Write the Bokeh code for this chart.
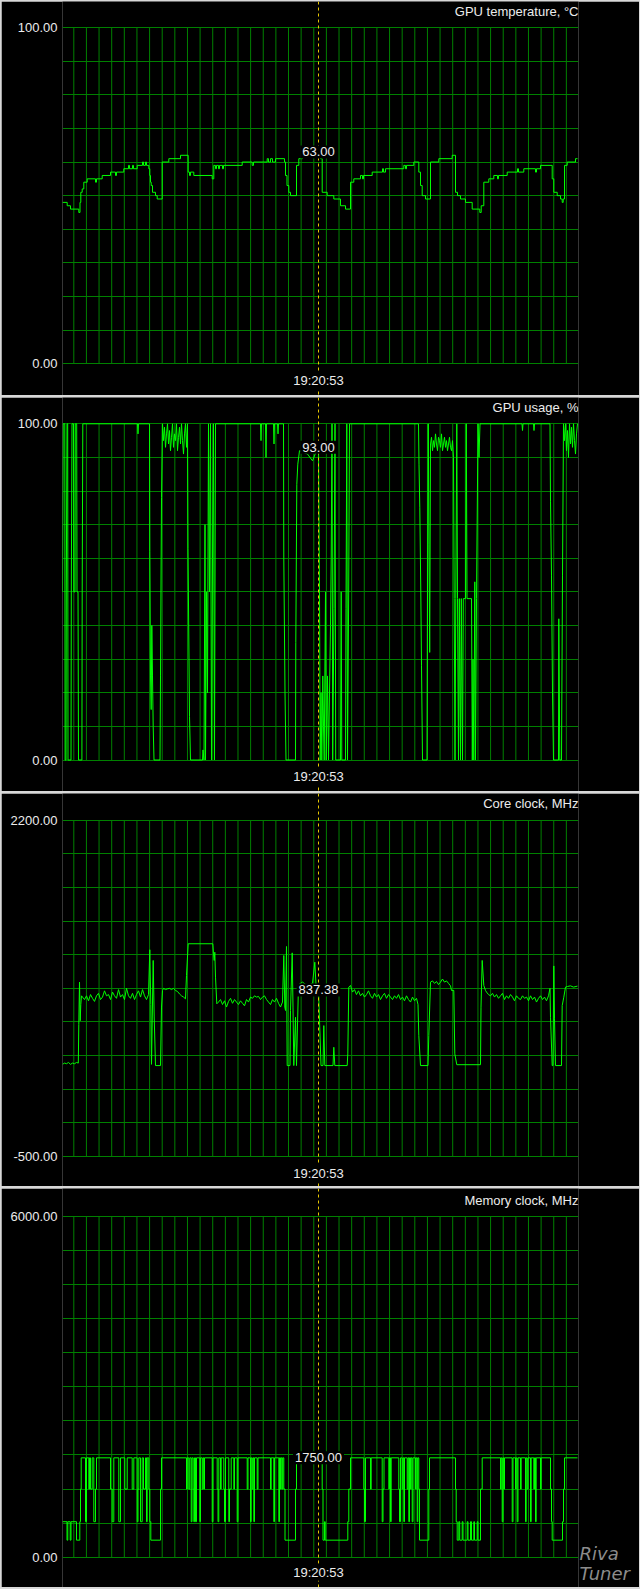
import numpy as np
from bokeh.plotting import figure
from bokeh.layouts import column
from bokeh.models import Range1d, FixedTicker, PrintfTickFormatter, Span, Label, LinearAxis
from bokeh.embed import file_html
from bokeh.resources import INLINE

# ---------------- data ----------------
titles = ["GPU temperature, °C", "GPU usage, %", "Core clock, MHz", "Memory clock, MHz"]
y_limits = [(0, 100), (0, 100), (-500, 2200), (0, 6000)]
cursor_sample = 256
cursor_time_label = "19:20:53"
cursor_values = [63.00, 93.00, 837.38, 1750.00]
watermark_words = ["Riva", "Tuner"]

temp_t = [0, 4.7, 8, 16.3, 17.5, 18.3, 19.7, 21.3, 24.7, 33, 34, 39.7, 48, 53, 54, 61.3, 66, 67, 70, 71,
          74.7, 80, 81, 83, 84, 86.3, 87.3, 88, 88.7, 90, 93, 94.7, 99.7, 106.3, 118, 125.7, 127, 128,
          131.3, 149.7, 151.3, 153, 154, 156, 157, 160, 161, 179.7, 189.7, 191, 204.7, 206, 208, 210,
          213, 222, 223, 224.5, 226.3, 228, 234, 236.3, 240, 246, 258, 259.7, 264.7, 271.3, 278, 283,
          288, 291.3, 298, 300, 301, 309.7, 320, 321, 323, 341.3, 343, 344, 351.3, 356.3, 358, 359.7,
          363, 368, 376.3, 389.7, 393, 395, 398, 403, 409.7, 417.3, 418.7, 421.3, 426.3, 431.3, 435,
          436, 444.7, 455, 456, 461.3, 473, 474, 478, 489.7, 491.3, 494.7, 498, 499.7, 500.7, 502,
          504.7, 513, 515]
temp_v = [48, 47, 46, 45, 48, 51, 52, 54, 55, 54, 55, 56, 57, 56, 57, 58, 59, 58, 59, 58,
          59, 60, 59, 60, 59, 58, 56, 54, 53, 51, 50, 49, 60, 61, 62, 57, 56, 57,
          56, 55, 59, 58, 59, 58, 59, 58, 59, 60, 59, 60, 61, 60, 61, 60,
          61, 60, 56, 53, 51, 50, 59, 61, 62, 63, 61, 51, 50, 49, 47, 46,
          54, 55, 56, 55, 56, 57, 58, 57, 58, 59, 58, 59, 60, 57, 53, 50,
          49, 60, 61, 62, 51, 50, 49, 48, 46, 45, 47, 54, 55, 56, 55,
          56, 57, 58, 57, 58, 57, 58, 59, 55, 51, 50, 49, 48, 49, 59,
          60, 61, 61]

usage_t = [0, 0.7, 2.3, 2.6, 3.5, 3.8, 4.5, 5.2, 5.5, 8.5, 8.8, 9.5, 11, 11.3, 12.5, 12.8, 14.2, 14.5,
           15.5, 16, 19.4, 19.7, 20.3, 75, 75.5, 76, 87, 87.3, 88, 88.7, 89.3, 90, 90.7, 91.5, 97.5,
           98, 99, 100, 101, 102, 103, 104, 105, 106, 107, 108, 109, 110, 111, 112, 113, 114, 115,
           116, 117, 118, 119, 120, 121, 122, 123, 124, 125, 125.5, 127, 128, 140, 140.5, 141.5,
           142.5, 143, 144, 145, 146, 147, 148, 149, 150, 151, 152, 153, 198, 198.5, 199, 203,
           203.5, 204, 211, 211.5, 212, 215, 215.5, 216, 221, 221.3, 222.5, 223.5, 233, 233.3,
           234.3, 235.3, 237, 245, 250, 254, 256, 257, 257.7, 258.5, 259.3, 260.3, 261, 261.7,
           263, 263.7, 265, 266, 268, 268.7, 269.5, 270.2, 271.5, 272.5, 273.2, 278, 278.7, 279.3,
           283, 283.5, 284.3, 285, 286.2, 287, 356, 356.5, 357.3, 358.3, 359, 360, 364.5, 365,
           365.8, 366.5, 367.2, 368, 369, 370, 371, 372, 373, 374, 375, 376, 377, 378, 379, 380,
           381, 382, 383, 384, 385, 386, 387, 388, 389, 390, 391, 391.7, 392.5, 393.3, 394.3, 395,
           396, 396.8, 398, 398.8, 400, 400.8, 403, 403.8, 404.5, 409, 409.8, 410.5, 411.3, 412.3,
           413, 414, 415.5, 416.5, 417.5, 459.5, 460, 460.5, 471, 471.5, 472, 487.5, 488, 489, 490,
           491, 496, 496.3, 497.3, 499, 500, 501, 502, 503, 504, 505, 506, 507, 508, 509, 510, 511,
           512, 513, 514, 515]
usage_v = [50, 100, 100, 0, 0, 50, 100, 100, 0, 0, 50, 100, 100, 50, 50, 100, 100, 50,
           50, 0, 0, 50, 100, 100, 97, 100, 100, 62, 25, 15, 40, 25, 10, 0, 0,
           25, 78, 100, 95, 99, 93, 97, 100, 94, 98, 92, 96, 100, 93, 97, 95, 100, 92,
           96, 99, 94, 100, 95, 91, 97, 100, 93, 100, 63, 13, 0, 0, 3, 0,
           70, 0, 50, 20, 100, 50, 100, 0, 60, 100, 0, 100, 100, 95, 100, 100,
           90, 100, 100, 94, 100, 100, 97, 100, 100, 60, 20, 0, 0, 35,
           82, 88, 92, 91, 89, 92, 93, 50, 0, 20, 0, 25, 10, 0,
           50, 0, 25, 0, 40, 60, 100, 0, 45, 100, 0, 0, 50, 0,
           0, 45, 100, 0, 50, 100, 100, 88, 75, 50, 28, 0, 0, 50,
           100, 64, 32, 94, 96, 92, 95, 93, 97, 94, 92, 96, 95, 93, 97, 92,
           94, 96, 93, 95, 92, 94, 96, 93, 92, 95, 90, 48, 0, 48, 100, 48,
           0, 48, 0, 48, 0, 48, 48, 100, 48, 48, 0, 30, 0, 53,
           0, 48, 100, 90, 100, 100, 98, 100, 100, 98, 100, 100, 77, 55, 20,
           0, 0, 42, 0, 0, 55, 100, 95, 100, 92, 98, 90, 100, 94, 99, 93, 100,
           95, 91, 97, 100]

core_t = [0, 2, 4, 6, 8, 10, 12, 14, 15.8, 16.3, 17, 17.7, 18.3, 19, 20, 22, 24, 26, 28, 30, 32, 34,
          36, 38, 40, 42, 44, 46, 48, 50, 52, 54, 56, 58, 60, 62, 64, 66, 68, 70, 72, 74, 76, 78, 80,
          82, 84, 86, 87.3, 88.3, 89, 90.7, 91.7, 93, 98, 99, 100, 101, 103, 105, 107, 109, 111, 113,
          115, 117, 119, 121, 123, 124, 125.7, 150.3, 151, 151.7, 152.3, 153, 154.3, 156, 158, 160,
          162, 164, 166, 168, 170, 172, 174, 176, 178, 180, 182, 184, 186, 188, 190, 192, 194, 196,
          198, 200, 202, 204, 206, 208, 210, 212, 214, 216, 218, 220, 221.3, 222.3, 223, 224, 224.7,
          227.5, 228, 229.7, 230.5, 231.3, 233, 234, 236, 240, 245, 250, 252.3, 253.5, 256, 258.5,
          260.5, 261.3, 262.3, 270.5, 271.3, 272.3, 284.7, 285.3, 286.3, 288, 290, 292, 294, 296,
          298, 300, 302, 304, 306, 308, 310, 312, 314, 316, 318, 320, 322, 324, 326, 328, 330, 332,
          334, 336, 338, 340, 342, 344, 346, 348, 350, 352, 354, 355.5, 356.3, 358, 365.5, 366.3,
          368, 370, 372, 374, 376, 378, 380, 382, 384, 386, 388, 389, 391.3, 392.3, 394.3, 418,
          418.5, 419.7, 421.3, 423, 424, 426, 428, 430, 432, 434, 436, 438, 440, 442, 444, 446, 448,
          450, 452, 454, 456, 458, 460, 462, 464, 466, 468, 470, 472, 474, 476, 478, 480, 482, 484,
          486, 487.5, 488, 489.7, 490.5, 491.3, 492, 493, 499, 499.7, 501.3, 503, 505, 508, 511, 515]
core_v = [240, 250, 245, 255, 240, 250, 245, 255, 250, 560, 900, 590, 720, 790, 780, 760, 790, 750, 800,
          770, 745, 790, 810, 760, 780, 830, 790, 800, 760, 820, 790, 770, 840, 780, 800, 760, 850,
          790, 770, 810, 760, 800, 830, 780, 840, 790, 760, 800, 1160, 720, 240, 1074, 620, 230, 230,
          700, 833, 850, 840, 846, 850, 840, 850, 833, 825, 805, 790, 780, 766, 953, 1208, 1208, 1127,
          1074, 1140, 940, 726, 740, 760, 720, 750, 700, 745, 770, 730, 760, 740, 720, 750, 730, 710,
          760, 740, 780, 770, 790, 780, 785, 760, 780, 790, 760, 740, 720, 760, 740, 770, 730, 700,
          740, 1114, 700, 672, 1186, 230, 230, 672, 1135, 700, 230, 618, 230, 880, 900, 870, 890,
          1060, 880, 837.38, 230, 230, 551, 230, 230, 377, 230, 230, 324, 860, 873, 820, 840, 800,
          830, 790, 810, 780, 800, 830, 790, 770, 810, 780, 800, 760, 790, 810, 770, 800, 780, 760,
          790, 770, 800, 760, 780, 750, 790, 760, 740, 780, 750, 770, 720, 471, 230, 230, 471, 900,
          910, 890, 905, 880, 900, 925, 900, 910, 890, 870, 833, 833, 324, 237, 237, 699, 1074, 873,
          833, 820, 800, 790, 810, 780, 800, 770, 790, 810, 760, 790, 770, 800, 780, 750, 790, 770,
          760, 790, 770, 780, 750, 790, 760, 780, 740, 770, 790, 760, 780, 750, 790, 850, 618, 230,
          230, 1030, 605, 230, 230, 712, 779, 860, 865, 870, 860, 868]

mem_t = [0, 4.5, 5.3, 7.7, 8.5, 14, 17.3, 18, 18.7, 23, 24, 26.3, 27, 28, 29.7, 31.3, 33, 34, 48, 49.7,
         51.3, 56.3, 58, 62.3, 64.7, 69.7, 71.3, 74.7, 75.5, 76.3, 78, 79.7, 81, 83, 84, 84.7, 86.3,
         87.3, 88.3, 98, 99, 124, 124.7, 126.3, 127.3, 128.7, 129.5, 130.7, 131.3, 132, 133, 134,
         137.3, 138, 139.7, 140.5, 141.3, 142, 149.7, 150.5, 154.7, 155.5, 156.3, 158, 158.7, 161.3,
         162, 163, 166.3, 167, 168.7, 171.3, 172, 174.7, 175.5, 184.7, 185.5, 188, 188.7, 189.7,
         190.5, 191.3, 192, 194.7, 195.5, 208, 208.7, 211.3, 212, 216.3, 217, 218, 218.7, 219.7,
         220.3, 221.3, 222.5, 233, 234, 259.7, 260.5, 262, 262.7, 285.3, 286.3, 288, 301.3, 302,
         303, 308, 308.7, 319.7, 320.5, 321.5, 326.3, 327, 328, 328.7, 336.3, 337, 338, 339.7,
         340.5, 341.3, 342, 344.7, 345.5, 346.3, 347, 348, 348.7, 349.7, 350.5, 353, 353.7, 354.7,
         355.3, 356.3, 357, 366.3, 367, 393, 393.7, 394.7, 396.3, 397.2, 399.7, 400.5, 404.7, 405.5,
         408, 409, 411.3, 412, 414.7, 415.5, 418, 419.7, 438, 438.7, 439.7, 440.5, 441.3, 442, 449.7,
         450.5, 453, 453.7, 454.7, 455.5, 458, 458.7, 463, 463.7, 464.7, 465.5, 468, 468.7, 471.3,
         472, 473, 473.7, 478, 478.7, 488, 489, 489.7, 500, 501, 502, 515]
mem_v = [625, 300, 625, 300, 625, 300, 625, 1200, 1750, 625, 1750, 1200, 1750, 1200, 1750, 625, 1200, 1750, 1200, 625,
         1750, 625, 1750, 1200, 1750, 1200, 1750, 625, 1200, 1750, 625, 1750, 1200, 1750, 625, 1750, 1200,
         625, 300, 1200, 1750, 1200, 1750, 1200, 1750, 625, 1750, 1200, 625, 1750, 625, 1750,
         625, 1750, 1200, 1750, 1200, 1750, 625, 1750, 1200, 625, 1750, 1200, 1750, 1200,
         625, 1750, 625, 1200, 1750, 1200, 1750, 625, 1750, 1200, 1750, 625, 1750, 1200,
         1750, 625, 1750, 1200, 1750, 1200, 1750, 625, 1750, 625, 1750, 1200, 1750, 1200,
         1750, 1200, 300, 1200, 1750, 1200, 300, 625, 300, 625, 1200, 1750, 1200, 625,
         1750, 1200, 1750, 625, 1200, 1750, 1200, 1750, 625, 1750, 1200, 625, 1750, 1200,
         1750, 625, 1750, 1200, 1750, 625, 1750, 1200, 1750, 625, 1750, 1200, 1750, 625,
         1750, 1200, 300, 1200, 1750, 1200, 625, 300, 625, 300, 625, 300, 625, 300,
         625, 300, 625, 300, 625, 300, 1200, 1750, 1200, 1750, 625, 1750, 1200, 1750, 625,
         1750, 1200, 1750, 625, 1750, 1200, 1750, 625, 1750, 1200, 1750, 625, 1750, 1200,
         1750, 625, 1750, 1200, 1750, 1200, 625, 300, 625, 1200, 1750, 1750]

series = [(temp_t, temp_v, "step"), (usage_t, usage_v, "line"),
          (core_t, core_v, "line"), (mem_t, mem_v, "step")]

# ---------------- layout / style ----------------
FIG_W = 638                      # + 1px frame border on each side
panel_h = [394, 394, 393, 399]
plot_top = [26, 26.3, 26.7, 28]
plot_bot = [362.3, 362.5, 363, 368.7]
time_gap = [16.7, 16.5, 16.5, 15]
FRAME_L, FRAME_R = 61, 61
N_SAMPLES = 516
GRID_X0, GRID_DX = 11.3, 12.63
GRID_COLOR = "#008000"
LINE_COLOR = "#00ff00"
TEXT_COLOR = "#ececec"
FONT = "Liberation Sans"
FSIZE = "13px"
CURSOR_COLOR = "#e6c800"
BORDER_COLOR = "#d8d8d8"

panels = []
for i in range(4):
    vmin, vmax = y_limits[i]
    H, top, bot = panel_h[i], plot_top[i], plot_bot[i]
    upp = (vmax - vmin) / (bot - top)
    p = figure(width=FIG_W, height=H, x_range=Range1d(0, N_SAMPLES),
               y_range=Range1d(vmin - (H - bot) * upp, vmax + top * upp),
               output_backend="svg", toolbar_location=None, title=None,
               x_axis_location=None, y_axis_location="left",
               min_border_left=FRAME_L, min_border_right=FRAME_R,
               min_border_top=0, min_border_bottom=0,
               background_fill_color="black", border_fill_color="black",
               outline_line_color=None)
    p.xgrid.grid_line_color = None
    p.ygrid.ticker = FixedTicker(ticks=list(np.linspace(vmin, vmax, 11)))
    p.ygrid.grid_line_color = GRID_COLOR
    p.ygrid.grid_line_width = 1

    ax = p.yaxis[0]
    ax.ticker = FixedTicker(ticks=[vmin, vmax])
    ax.formatter = PrintfTickFormatter(format="%.2f")
    ax.axis_line_color = None
    ax.major_tick_line_color = None
    ax.minor_tick_line_color = None
    ax.major_tick_in = 0
    ax.major_tick_out = 0
    ax.major_label_standoff = 5
    ax.major_label_text_font = FONT
    ax.major_label_text_font_size = FSIZE
    ax.major_label_text_color = TEXT_COLOR

    gx = np.arange(GRID_X0, N_SAMPLES, GRID_DX)
    p.segment(x0=gx, y0=vmin, x1=gx, y1=vmax, line_color=GRID_COLOR, line_width=1)

    t, v, kind = series[i]
    if kind == "step":
        p.step(t, v, mode="after", line_color=LINE_COLOR, line_width=1)
    else:
        p.line(t, v, line_color=LINE_COLOR, line_width=1)

    p.add_layout(Span(location=cursor_sample, dimension="height", line_color=CURSOR_COLOR,
                      line_width=1, line_dash="3 3"))

    p.add_layout(Label(x=N_SAMPLES, y=vmax + 16.3 * upp, text=titles[i],
                       text_align="right", text_baseline="middle", text_font=FONT,
                       text_font_size=FSIZE, text_color=TEXT_COLOR))
    p.add_layout(Label(x=cursor_sample, y=vmin - time_gap[i] * upp, text=cursor_time_label,
                       text_align="center", text_baseline="middle", text_font=FONT,
                       text_font_size=FSIZE, text_color=TEXT_COLOR,
                       background_fill_color="black", padding=1))
    p.add_layout(Label(x=cursor_sample, y=cursor_values[i], text="%.2f" % cursor_values[i],
                       text_align="center", text_baseline="middle", text_font=FONT,
                       text_font_size=FSIZE, text_color=TEXT_COLOR,
                       background_fill_color="black", padding=2))
    if i == 3:
        # watermark in the right border, written by an unlabelled right axis
        wm_ticks = [60, -290]
        wax = LinearAxis(ticker=FixedTicker(ticks=wm_ticks),
                         major_label_overrides={wm_ticks[0]: watermark_words[0],
                                                wm_ticks[1]: watermark_words[1]},
                         axis_line_color=None, major_tick_line_color=None,
                         minor_tick_line_color=None, major_tick_in=0, major_tick_out=0,
                         major_label_standoff=1, major_label_text_color="#8c8c8c",
                         major_label_text_font="DejaVu Sans",
                         major_label_text_font_style="italic",
                         major_label_text_font_size="18px")
        p.add_layout(wax, "right")
    panels.append(p)

layout = column(*panels, spacing=2,
                styles={"background-color": BORDER_COLOR, "padding": "1px 1px 2px 1px"})
open("out.html", "w").write(file_html(layout, INLINE))
